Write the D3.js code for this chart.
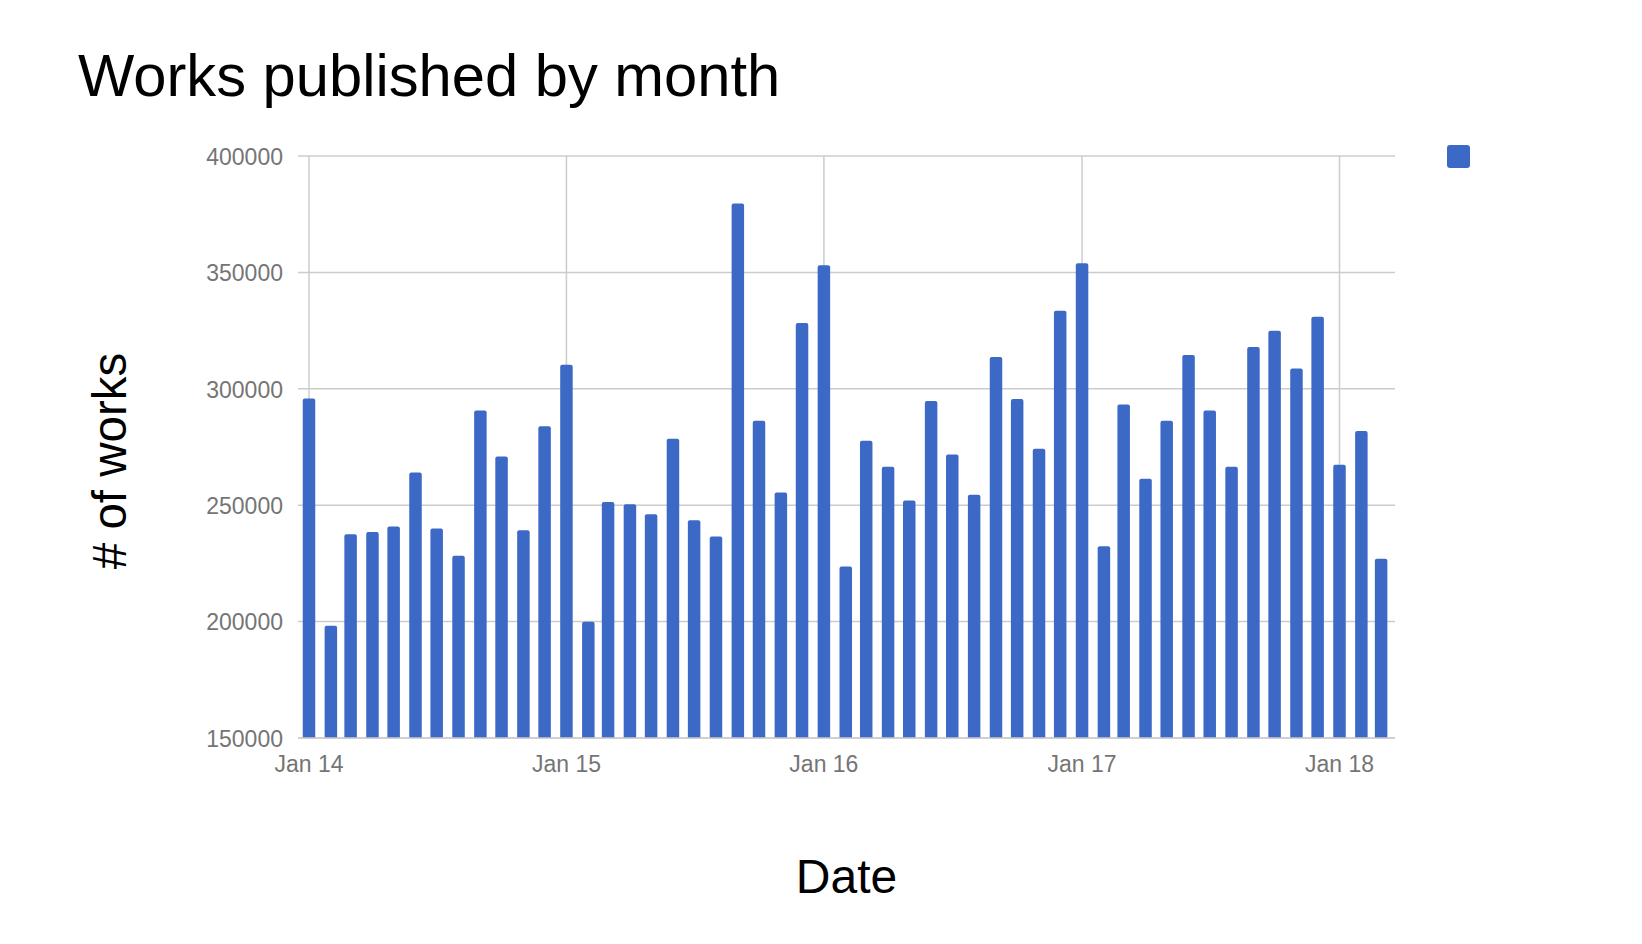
<!DOCTYPE html>
<html>
<head>
<meta charset="utf-8">
<script src="https://cdn.jsdelivr.net/npm/d3@7"></script>
<style>
  html, body { margin: 0; padding: 0; background: #fff; }
  svg { display: block; }
</style>
</head>
<body>
<svg id="chart" width="1642" height="944"></svg>
<script>
// ---- data ----
const startMonth = "2014-01";
const worksPublished = [
  // 2014
  295800, 198200, 237500, 238500, 240800, 264000, 240000, 228300, 290700, 270900, 239200, 283900,
  // 2015
  310300, 199900, 251400, 250400, 246100, 278500, 243500, 236600, 379600, 286300, 255500, 328300,
  // 2016
  353100, 223700, 277700, 266500, 252000, 294800, 271800, 254500, 313700, 295600, 274300, 333500,
  // 2017
  353900, 232400, 293300, 261400, 286300, 314500, 290700, 266500, 318000, 324900, 308700, 330900,
  // 2018
  267400, 281900, 227000
];
const yTicks = [150000, 200000, 250000, 300000, 350000, 400000];
const xTickLabels = ["Jan 14", "Jan 15", "Jan 16", "Jan 17", "Jan 18"];
const xTickDates = ["2014-01-01", "2015-01-01", "2016-01-01", "2017-01-01", "2018-01-01"];
const titleText = "Works published by month";
const xAxisTitle = "Date";
const yAxisTitle = "# of works";

// ---- layout ----
const svg = d3.select("#chart");
const plot = { left: 298, right: 1395, top: 156, bottom: 738 };
const barColor = "#3d69c6";
const gridColor = "#cccccc";
const labelColor = "#757575";
const font = "'Liberation Sans', Arial, sans-serif";

const parseDay = d3.timeParse("%Y-%m-%d");
const months = worksPublished.map((v, i) => d3.timeMonth.offset(parseDay(startMonth + "-01"), i));

// time scale: Jan 14 -> 309, Jan 18 -> 1339.5
const xBase = d3.scaleTime()
  .domain([parseDay(xTickDates[0]), parseDay(xTickDates[4])])
  .range([309, 1339.5]);
const x = d3.scaleTime()
  .domain([xBase.invert(plot.left), xBase.invert(plot.right)])
  .range([plot.left, plot.right]);

const y = d3.scaleLinear()
  .domain([150000, 400000])
  .range([plot.bottom, plot.top]);

// ---- gridlines ----
const grid = svg.append("g");
grid.selectAll("line.h")
  .data(yTicks)
  .join("line")
  .attr("x1", plot.left).attr("x2", plot.right)
  .attr("y1", d => y(d)).attr("y2", d => y(d))
  .attr("stroke", gridColor).attr("stroke-width", 1.5);

grid.selectAll("line.v")
  .data(xTickDates)
  .join("line")
  .attr("x1", d => x(parseDay(d))).attr("x2", d => x(parseDay(d)))
  .attr("y1", plot.top).attr("y2", plot.bottom)
  .attr("stroke", gridColor).attr("stroke-width", 1.5);

// ---- bars (rounded top corners) ----
const barW = 12.5, r = 2;
svg.append("g")
  .selectAll("path")
  .data(worksPublished)
  .join("path")
  .attr("fill", barColor)
  .attr("d", (d, i) => {
    const cx = x(months[i]);
    const x0 = cx - barW / 2, x1 = cx + barW / 2;
    const yt = y(d), yb = y(150000);
    return `M${x0},${yb} L${x0},${yt + r} Q${x0},${yt} ${x0 + r},${yt} L${x1 - r},${yt} Q${x1},${yt} ${x1},${yt + r} L${x1},${yb} Z`;
  });

// baseline
svg.append("line")
  .attr("x1", plot.left).attr("x2", plot.right)
  .attr("y1", y(150000)).attr("y2", y(150000))
  .attr("stroke", gridColor).attr("stroke-width", 1.5);

// ---- y tick labels ----
svg.append("g")
  .selectAll("text")
  .data(yTicks)
  .join("text")
  .attr("x", 283)
  .attr("y", d => y(d))
  .attr("dy", "0.38em")
  .attr("text-anchor", "end")
  .attr("font-family", font)
  .attr("font-size", 23)
  .attr("fill", labelColor)
  .text(d => d3.format("d")(d));

// ---- x tick labels ----
svg.append("g")
  .selectAll("text")
  .data(xTickDates)
  .join("text")
  .attr("x", d => x(parseDay(d)))
  .attr("y", 772)
  .attr("text-anchor", "middle")
  .attr("font-family", font)
  .attr("font-size", 23)
  .attr("fill", labelColor)
  .text((d, i) => xTickLabels[i]);

// ---- titles ----
svg.append("text")
  .attr("x", 78).attr("y", 96)
  .attr("font-family", font)
  .attr("font-size", 59.7)
  .attr("fill", "#000")
  .text(titleText);

svg.append("text")
  .attr("x", (plot.left + plot.right) / 2)
  .attr("y", 893)
  .attr("text-anchor", "middle")
  .attr("font-family", font)
  .attr("font-size", 48)
  .attr("fill", "#000")
  .text(xAxisTitle);

svg.append("text")
  .attr("transform", "translate(126,461) rotate(-90)")
  .attr("text-anchor", "middle")
  .attr("font-family", font)
  .attr("font-size", 47.5)
  .attr("fill", "#000")
  .text(yAxisTitle);

// ---- legend (color swatch only) ----
svg.append("rect")
  .attr("x", 1447).attr("y", 145)
  .attr("width", 23).attr("height", 23)
  .attr("rx", 3)
  .attr("fill", barColor);
</script>
</body>
</html>
